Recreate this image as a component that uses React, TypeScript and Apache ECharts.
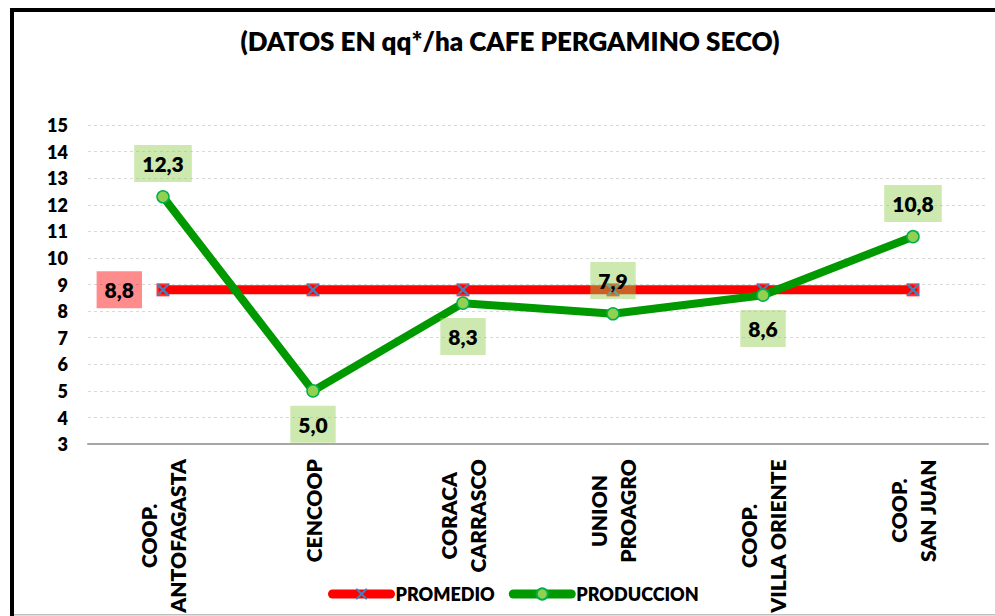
import React, { useEffect, useRef } from "react";
import * as echarts from "echarts";

const TITLE = "(DATOS EN qq*/ha CAFE PERGAMINO SECO)";
const categories = [
  "COOP.\nANTOFAGASTA",
  "CENCOOP",
  "CORACA\nCARRASCO",
  "UNION\nPROAGRO",
  "COOP.\nVILLA ORIENTE",
  "COOP.\nSAN JUAN",
];
const promedio = [8.8, 8.8, 8.8, 8.8, 8.8, 8.8];
const produccion = [12.3, 5.0, 8.3, 7.9, 8.6, 10.8];
const produccionLabelSide = ["top", "bottom", "bottom", "top", "bottom", "top"];
const yMin = 3;
const yMax = 15;
const yInterval = 1;

const FONT = "Lato";
const W = 800;
const fmt = (v: number) => v.toFixed(1).replace(".", ",");

export default function App() {
  const ref = useRef<HTMLDivElement>(null);
  useEffect(() => {
    if (!ref.current) return;
    const chart = echarts.init(ref.current, undefined, { renderer: "svg" });
    const xPath =
      "path://M0,0 L1.3,0 L5,3.7 L8.7,0 L10,0 L10,1.3 L6.3,5 L10,8.7 L10,10 L8.7,10 L5,6.3 L1.3,10 L0,10 L0,8.7 L3.7,5 L0,1.3 Z";
    const option: any = {
      animation: false,
      backgroundColor: "#ffffff",
      textStyle: { fontFamily: FONT },
      grid: { left: 88, right: 7, top: 125, bottom: 170, containLabel: false },
      graphic: [
        { type: "rect", shape: { x: 10, y: 8, width: 985, height: 4 }, style: { fill: "#000" } },
        { type: "rect", shape: { x: 10, y: 8, width: 4, height: 608 }, style: { fill: "#000" } },
        { type: "rect", shape: { x: 14, y: 614, width: 981, height: 1.5 }, style: { fill: "#BFBFBF" } },
        {
          type: "text",
          x: 510,
          y: 41,
          style: {
            text: TITLE,
            fontFamily: FONT,
            fontWeight: W,
            fontSize: 26,
            fill: "#000",
            textAlign: "center",
            textVerticalAlign: "middle",
          },
        },
      ],
      legend: {
        left: 323,
        top: 580,
        itemWidth: 58,
        itemHeight: 14,
        itemGap: 14,
        lineStyle: { width: 9, cap: "round" },
        textStyle: { fontFamily: FONT, fontWeight: W, fontSize: 18, color: "#000" },
        data: ["PROMEDIO", "PRODUCCION"],
      },
      xAxis: {
        type: "category",
        data: categories,
        boundaryGap: true,
        axisLine: { show: true, lineStyle: { color: "#A6A6A6", width: 2 } },
        axisTick: { show: false },
        axisLabel: {
          interval: 0,
          rotate: 90,
          margin: 15,
          formatter: (v: string) =>
            v
              .split("\n")
              .map((l) => "{a|" + l + "}")
              .join("\n"),
          rich: {
            a: {
              align: "center",
              fontFamily: FONT,
              fontWeight: W,
              fontSize: 21,
              lineHeight: 29,
              color: "#000",
            },
          },
        },
      },
      yAxis: {
        type: "value",
        min: yMin,
        max: yMax,
        interval: yInterval,
        axisLine: { show: false },
        axisTick: { show: false },
        splitLine: { show: true, lineStyle: { color: "#D9D9D9", type: [3, 3], width: 1 } },
        axisLabel: {
          margin: 20,
          fontFamily: FONT,
          fontWeight: W,
          fontSize: 18,
          color: "#000",
        },
      },
      series: [
        {
          name: "PROMEDIO_MARK",
          type: "scatter",
          data: promedio,
          symbol: "rect",
          symbolSize: 13,
          itemStyle: { color: "#FF0000" },
          silent: true,
          z: 1,
        },
        {
          name: "PROMEDIO",
          type: "line",
          z: 2,
          data: promedio.map((v, i) => ({
            value: v,
            label:
              i === 0
                ? {
                    show: true,
                    position: "left",
                    distance: 15,
                    formatter: (p: any) => fmt(p.value),
                    backgroundColor: "rgba(255,0,0,0.45)",
                    padding: [8, 8],
                    fontFamily: FONT,
                    fontWeight: W,
                    fontSize: 21,
                    color: "#000",
                  }
                : { show: false },
          })),
          symbol: xPath,
          symbolSize: 12,
          itemStyle: { color: "#4A7EBB" },
          lineStyle: { color: "#FF0000", width: 9, cap: "round" },
          color: "#FF0000",
        },
        {
          name: "PRODUCCION",
          type: "line",
          z: 3,
          data: produccion.map((v, i) => ({
            value: v,
            label: { position: produccionLabelSide[i] },
          })),
          symbol: "circle",
          symbolSize: 12,
          itemStyle: { color: "#92D050", borderColor: "#00B050", borderWidth: 1.5 },
          lineStyle: { color: "#009900", width: 8, cap: "round" },
          color: "#009900",
          label: {
            show: true,
            distance: 8,
            formatter: (p: any) => fmt(p.value),
            backgroundColor: "rgba(146,208,80,0.46)",
            padding: [8, 8],
            fontFamily: FONT,
            fontWeight: W,
            fontSize: 21,
            color: "#000",
          },
        },
      ],
    };
    chart.setOption(option);
    return () => chart.dispose();
  }, []);
  return (
    <div
      ref={ref}
      style={{ position: "absolute", left: 0, top: 0, width: 995, height: 616, background: "#fff" }}
    />
  );
}
